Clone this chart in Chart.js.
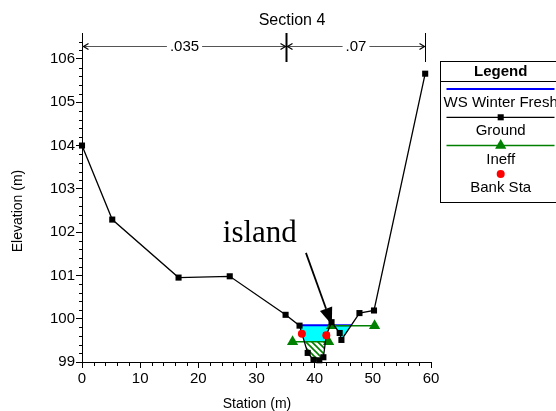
<!DOCTYPE html>
<html>
<head>
<meta charset="utf-8">
<script src="https://cdn.jsdelivr.net/npm/chart.js@4.4.0/dist/chart.umd.min.js"></script>
<style>
  html, body { margin: 0; padding: 0; background: #fff; }
  canvas { display: block; }
</style>
</head>
<body>
<canvas id="xsChart" width="556" height="411"></canvas>
<script>
// Cross section geometry, station (m) / elevation (m)
const groundStation = [0, 5.2, 16.6, 25.4, 35.0, 37.4, 38.8, 39.8, 40.8, 41.5, 42.0, 42.9, 44.3, 44.6, 47.7, 50.2, 59.0];
const groundElev    = [104.0, 102.29, 100.95, 100.98, 100.09, 99.84, 99.21, 99.05, 99.04, 99.11, 99.62, 99.92, 99.67, 99.51, 100.13, 100.19, 105.66];

const wsStation = [37.4, 46.3];
const wsElev    = [99.85, 99.85];

// two ineffective areas, null splits them
const ineffStation = [36.2, 42.4, null, 42.9, 50.3];
const ineffElev    = [99.47, 99.47, null, 99.84, 99.84];

const bankStation = [37.8, 42.0];
const bankElev    = [99.65, 99.62];

// Manning's n breaks along the top
const nStation = [0, 35, 59];
const nValues  = ['.035', '.07'];

const xTicks = [0, 10, 20, 30, 40, 50, 60];
const yTicks = [99, 100, 101, 102, 103, 104, 105, 106];

const toPoints = (xs, ys) => xs.map((x, i) => ({ x: x, y: ys[i] }));

const FONT = "'Liberation Sans', Arial, sans-serif";
Chart.defaults.font.family = FONT;
Chart.defaults.color = '#000';

function makeHatch(ctx) {
  const c = document.createElement('canvas');
  c.width = 6; c.height = 6;
  const g = c.getContext('2d');
  g.fillStyle = '#fff';
  g.fillRect(0, 0, 6, 6);
  g.strokeStyle = '#008000';
  g.lineWidth = 1.6;
  g.beginPath();
  g.moveTo(-1, -1); g.lineTo(7, 7);
  g.moveTo(-4, 2); g.lineTo(4, 10);
  g.moveTo(2, -4); g.lineTo(10, 4);
  g.stroke();
  return ctx.createPattern(c, 'repeat');
}

// water and ineffective area fills, clipped against the ground line
const wetArea = {
  id: 'wetArea',
  beforeDatasetsDraw(chart) {
    const { ctx, chartArea, scales: { x, y } } = chart;
    const ground = chart.getDatasetMeta(1).data;
    const above = new Path2D();
    above.moveTo(ground[0].x, chartArea.top);
    ground.forEach(p => above.lineTo(p.x, p.y));
    above.lineTo(ground[ground.length - 1].x, chartArea.top);
    above.closePath();

    const wx0 = x.getPixelForValue(wsStation[0]);
    const wx1 = x.getPixelForValue(wsStation[1]);
    const wy = y.getPixelForValue(wsElev[0]);
    ctx.save();
    ctx.beginPath();
    ctx.rect(wx0, wy, wx1 - wx0, chartArea.bottom - wy);
    ctx.clip();
    ctx.fillStyle = '#00ffff';
    ctx.fill(above);
    ctx.restore();

    const ix0 = x.getPixelForValue(ineffStation[0]);
    const ix1 = x.getPixelForValue(ineffStation[1]);
    const iy = y.getPixelForValue(ineffElev[0]);
    ctx.save();
    ctx.beginPath();
    ctx.rect(ix0, iy, ix1 - ix0, chartArea.bottom - iy);
    ctx.clip();
    ctx.fillStyle = makeHatch(ctx);
    ctx.fill(above);
    ctx.restore();
  }
};

function marker(ctx, style, cx, cy, r, color) {
  ctx.fillStyle = color;
  ctx.beginPath();
  if (style === 'rect') {
    const s = Math.SQRT1_2 * r;
    ctx.rect(cx - s, cy - s, 2 * s, 2 * s);
  } else if (style === 'triangle') {
    ctx.moveTo(cx, cy - r);
    ctx.lineTo(cx + r * 0.866, cy + r / 2);
    ctx.lineTo(cx - r * 0.866, cy + r / 2);
    ctx.closePath();
  } else {
    ctx.arc(cx, cy, r, 0, Math.PI * 2);
  }
  ctx.fill();
}

// arrow pointing at the island, plus its label
const islandNote = {
  id: 'islandNote',
  afterDatasetsDraw(chart) {
    const { ctx, scales: { x, y } } = chart;
    const sx = x.getPixelForValue(38.5), sy = y.getPixelForValue(101.52);
    const tx = x.getPixelForValue(42.95), ty = y.getPixelForValue(99.86);
    const ang = Math.atan2(ty - sy, tx - sx);
    const len = 17, half = 6.5;
    const bx = tx - len * Math.cos(ang), by = ty - len * Math.sin(ang);
    ctx.save();
    ctx.strokeStyle = '#000';
    ctx.lineWidth = 1.8;
    ctx.beginPath();
    ctx.moveTo(sx, sy);
    ctx.lineTo(bx, by);
    ctx.stroke();
    ctx.fillStyle = '#000';
    ctx.beginPath();
    ctx.moveTo(tx, ty);
    ctx.lineTo(bx + half * Math.sin(ang), by - half * Math.cos(ang));
    ctx.lineTo(bx - half * Math.sin(ang), by + half * Math.cos(ang));
    ctx.closePath();
    ctx.fill();

    ctx.font = "31px 'Liberation Serif', 'Times New Roman', serif";
    ctx.textAlign = 'left';
    ctx.textBaseline = 'alphabetic';
    ctx.fillText('island', x.getPixelForValue(24.2), y.getPixelForValue(101.77));
    ctx.restore();
  }
};

// titles, n-value dimension line, minor ticks and the boxed legend
const decorations = {
  id: 'decorations',
  afterDraw(chart) {
    const { ctx, chartArea, scales: { x, y } } = chart;
    ctx.save();

    // minor ticks
    ctx.strokeStyle = '#000';
    ctx.lineWidth = 1;
    ctx.beginPath();
    for (let v = 99.2; v < 106.6; v += 0.2) {
      if (Math.abs(v - Math.round(v)) < 0.01) continue;
      const py = Math.round(y.getPixelForValue(v)) + 0.5;
      ctx.moveTo(chartArea.left, py);
      ctx.lineTo(chartArea.left - 3, py);
    }
    for (let v = 2; v < 60; v += 2) {
      if (v % 10 === 0) continue;
      const px = Math.round(x.getPixelForValue(v)) + 0.5;
      ctx.moveTo(px, chartArea.bottom);
      ctx.lineTo(px, chartArea.bottom + 4);
    }
    ctx.stroke();

    // chart title
    ctx.fillStyle = '#000';
    ctx.font = '16px ' + FONT;
    ctx.textAlign = 'center';
    ctx.textBaseline = 'middle';
    ctx.fillText('Section 4', 292, 21);

    // axis titles
    ctx.font = '14px ' + FONT;
    ctx.fillText('Station (m)', 257, 404);
    ctx.save();
    ctx.translate(18, 211);
    ctx.rotate(-Math.PI / 2);
    ctx.fillText('Elevation (m)', 0, 0);
    ctx.restore();

    // Manning's n dimension line
    const dimY = 46.5;
    const px = nStation.map(s => Math.round(x.getPixelForValue(s)) + 0.5);
    ctx.strokeStyle = '#555';
    ctx.lineWidth = 1;
    ctx.beginPath();
    ctx.moveTo(px[0], dimY);
    ctx.lineTo(px[px.length - 1], dimY);
    ctx.stroke();
    ctx.strokeStyle = '#000';
    for (let i = 1; i < px.length; i++) {
      ctx.lineWidth = i === px.length - 1 ? 1 : 2;
      ctx.beginPath();
      ctx.moveTo(px[i], 33);
      ctx.lineTo(px[i], 62);
      ctx.stroke();
    }
    ctx.lineWidth = 1.2;
    ctx.beginPath();
    for (let i = 0; i < px.length - 1; i++) {
      const a = px[i], b = px[i + 1];
      ctx.moveTo(a + 6, dimY - 3); ctx.lineTo(a + 1, dimY); ctx.lineTo(a + 6, dimY + 3);
      ctx.moveTo(b - 6, dimY - 3); ctx.lineTo(b - 1, dimY); ctx.lineTo(b - 6, dimY + 3);
    }
    ctx.stroke();
    ctx.font = '15px ' + FONT;
    for (let i = 0; i < nValues.length; i++) {
      const mid = (px[i] + px[i + 1]) / 2;
      const w = ctx.measureText(nValues[i]).width + 6;
      ctx.fillStyle = '#fff';
      ctx.fillRect(mid - w / 2, dimY - 7, w, 14);
      ctx.fillStyle = '#000';
      ctx.fillText(nValues[i], mid, dimY + 0.5);
    }

    // legend box
    const left = 440.5, top = 61.5, right = 560.5, bottom = 202.5, cx = 500.7;
    ctx.fillStyle = '#fff';
    ctx.fillRect(left, top, right - left, bottom - top);
    ctx.strokeStyle = '#000';
    ctx.lineWidth = 1;
    ctx.strokeRect(left, top, right - left, bottom - top);
    ctx.beginPath();
    ctx.moveTo(left, 81.5);
    ctx.lineTo(right, 81.5);
    ctx.stroke();
    ctx.fillStyle = '#000';
    ctx.font = 'bold 15px ' + FONT;
    ctx.fillText('Legend', cx, 71.5);
    ctx.font = '15px ' + FONT;
    chart.data.datasets.forEach((ds, i) => {
      const ly = 89 + i * 28.3;
      if (ds.showLine) {
        ctx.strokeStyle = ds.borderColor;
        ctx.lineWidth = ds.borderWidth;
        ctx.beginPath();
        ctx.moveTo(left + 6, ly);
        ctx.lineTo(right - 6, ly);
        ctx.stroke();
      }
      if (ds.pointRadius > 0) {
        marker(ctx, ds.pointStyle, cx, ly, ds.pointRadius, ds.pointBackgroundColor);
      }
      ctx.fillStyle = '#000';
      ctx.fillText(ds.label, cx, ly + 14);
    });
    ctx.restore();
  }
};

new Chart(document.getElementById('xsChart'), {
  type: 'scatter',
  data: {
    datasets: [
      {
        label: 'WS Winter Fresh',
        data: toPoints(wsStation, wsElev),
        showLine: true,
        borderColor: '#0000ff',
        borderWidth: 2,
        pointRadius: 0,
        order: 3
      },
      {
        label: 'Ground',
        data: toPoints(groundStation, groundElev),
        showLine: true,
        borderColor: '#000',
        borderWidth: 1.3,
        pointStyle: 'rect',
        pointRadius: 4.3,
        pointBackgroundColor: '#000',
        pointBorderWidth: 0,
        clip: false,
        order: 1
      },
      {
        label: 'Ineff',
        data: toPoints(ineffStation, ineffElev),
        showLine: true,
        spanGaps: false,
        borderColor: '#008000',
        borderWidth: 1.5,
        pointStyle: 'triangle',
        pointRadius: 6.5,
        pointBackgroundColor: '#008000',
        pointBorderWidth: 0,
        order: 2
      },
      {
        label: 'Bank Sta',
        data: toPoints(bankStation, bankElev),
        showLine: false,
        pointStyle: 'circle',
        pointRadius: 4,
        pointBackgroundColor: '#ff0000',
        pointBorderWidth: 0,
        order: 0
      }
    ]
  },
  options: {
    responsive: false,
    animation: false,
    layout: { padding: { top: 33, right: 125, left: 0, bottom: 0 } },
    plugins: {
      legend: { display: false },
      tooltip: { enabled: false }
    },
    scales: {
      x: {
        type: 'linear',
        min: 0,
        max: 60,
        afterFit: s => { s.height = 49; },
        afterBuildTicks: s => { s.ticks = xTicks.map(v => ({ value: v })); },
        grid: { drawOnChartArea: false, tickLength: 6, color: '#000' },
        border: { color: '#000', width: 1 },
        ticks: { padding: 2, font: { size: 15 }, color: '#000', maxRotation: 0 }
      },
      y: {
        type: 'linear',
        min: 99,
        max: 106.6,
        afterFit: s => { s.width = 82; },
        afterBuildTicks: s => { s.ticks = yTicks.map(v => ({ value: v })); },
        grid: { drawOnChartArea: false, tickLength: 6, color: '#000' },
        border: { color: '#000', width: 1 },
        ticks: { padding: 1, font: { size: 15 }, color: '#000' }
      }
    }
  },
  plugins: [wetArea, islandNote, decorations]
});
</script>
</body>
</html>
